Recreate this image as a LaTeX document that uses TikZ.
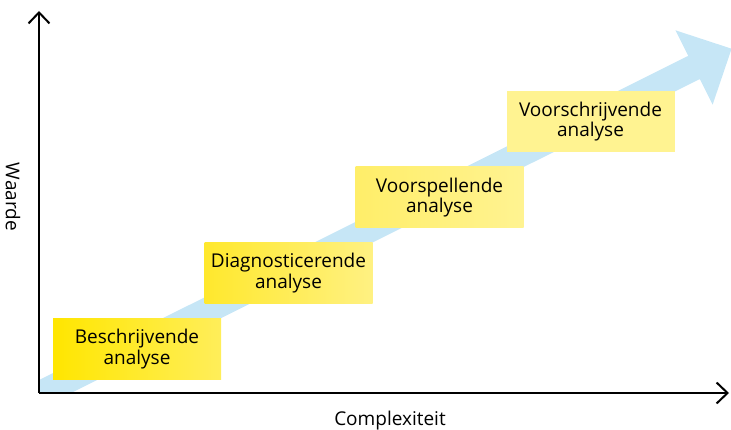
\documentclass[tikz,border=0pt]{standalone}
\usepackage{fontspec}
\setmainfont{Open Sans}
\usetikzlibrary{arrows.meta,positioning}

\definecolor{skyband}{RGB}{198,230,246}
\definecolor{yelA}{RGB}{255,230,0}
\definecolor{yelB}{RGB}{255,238,90}
\definecolor{yelC}{RGB}{255,232,45}
\definecolor{yelD}{RGB}{255,241,130}
\definecolor{yelE}{RGB}{255,238,105}
\definecolor{yelF}{RGB}{255,243,145}

\tikzset{
  axis/.style={line width=2pt,-{Straight Barb[length=11pt,width=21pt,line width=2pt]}},
  stage/.style={minimum width=168pt,minimum height=61pt,inner sep=0pt,
    align=center,font=\fontsize{19}{20.5}\selectfont}
}

\begin{document}
\begin{tikzpicture}[x=1pt,y=-1pt]
  \useasboundingbox (0,0) rectangle (731,430);
  % growth band
  \begin{scope}
    \clip (39,0) rectangle (740,393);
    \fill[skyband] (24.2,387.4) -- (688.2,55.9) -- (675.4,30.3) -- (731.6,48.7)
      -- (712.6,104.7) -- (699.8,79.1) -- (35.8,410.6) -- cycle;
  \end{scope}
  % axes
  \coordinate (origin) at (39,393);
  \coordinate (ytop) at (39,11);
  \coordinate (xend) at (729,393);
  \draw[axis] (origin) -- (ytop);
  \draw[axis] (origin) -- (xend);
  \node[rotate=-90,font=\fontsize{19}{20}\selectfont] (waarde) at (13,197) {Waarde};
  \node[font=\fontsize{19}{20}\selectfont] (complex) at (390,421) {Complexiteit};
  % stages
  \node[stage,left color=yelA,right color=yelB] (beschr) at (137,349) {Beschrijvende\\analyse};
  \node[stage,left color=yelC,right color=yelD] (diagn) at (288.5,273) {Diagnosticerende\\analyse};
  \node[stage,left color=yelE,right color=yelF] (voorsp) at (439.5,197.5) {Voorspellende\\analyse};
  \node[stage,fill=yelF] (voorschr) at (590.5,121.5) {Voorschrijvende\\analyse};
\end{tikzpicture}
\end{document}
